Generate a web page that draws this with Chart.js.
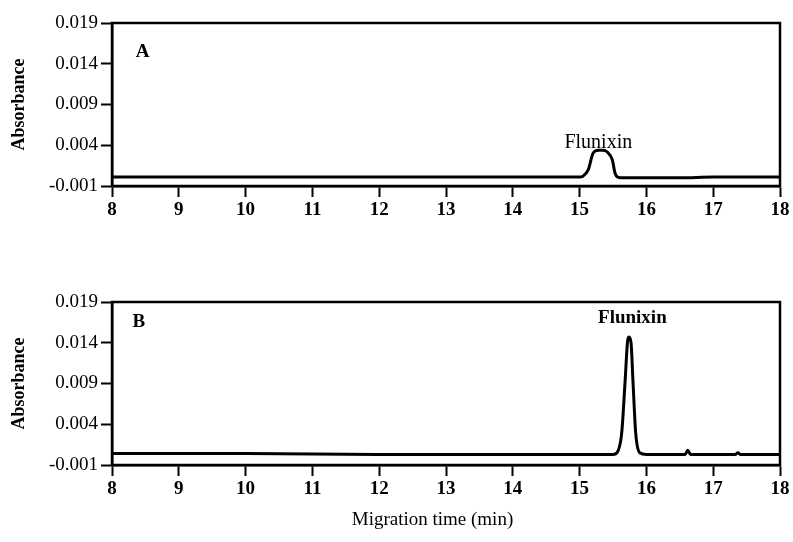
<!DOCTYPE html>
<html>
<head>
<meta charset="utf-8">
<script src="https://cdn.jsdelivr.net/npm/chart.js@4"></script>
<style>
  html, body { margin: 0; padding: 0; background: #fff; }
  #page { position: relative; width: 793px; height: 542px; overflow: hidden; }
  .panel { position: absolute; left: 0; width: 793px; height: 230px; }
  #xtitle {
    position: absolute; left: 0; top: 508px; width: 865px; text-align: center;
    font: 19px "Liberation Serif", "Times New Roman", serif; color: #000;
  }
</style>
</head>
<body>
<div id="page">
  <div class="panel" style="top:0"><canvas id="panelA"></canvas></div>
  <div class="panel" style="top:279px"><canvas id="panelB"></canvas></div>
  <div id="xtitle">Migration time (min)</div>
</div>
<script>
// Electropherogram A
const timeA = [8, 9, 10, 11, 12, 13, 14, 14.8, 15.0, 15.05, 15.13, 15.2, 15.28, 15.35, 15.41, 15.49, 15.53, 15.57, 15.65, 16.0, 16.5, 17, 18];
const absA = [0.0001, 0.0001, 0.0001, 0.0001, 0.0001, 0.0001, 0.0001, 0.0001, 0.0001, 0.0002, 0.0010, 0.0030, 0.0034, 0.0034, 0.0032, 0.0022, 0.0006, 0.0001, 0, 0, 0, 0.0001, 0.0001];

// Electropherogram B
const timeB = [8, 10, 12, 14, 15, 15.5, 15.56, 15.63, 15.68, 15.72, 15.74, 15.77, 15.8, 15.84, 15.9, 16.0, 16.5, 16.58, 16.62, 16.66, 17, 17.33, 17.37, 17.41, 18];
const absB = [0.0004, 0.0004, 0.0003, 0.0003, 0.0003, 0.0003, 0.0005, 0.0029, 0.0091, 0.0143, 0.0147, 0.0140, 0.0091, 0.0029, 0.0005, 0.0003, 0.0003, 0.0003, 0.0008, 0.0003, 0.0003, 0.0003, 0.0005, 0.0003, 0.0003];

// Axes
const yTicks = [-0.001, 0.004, 0.009, 0.014, 0.019];
const xTicks = [8, 9, 10, 11, 12, 13, 14, 15, 16, 17, 18];

const serif = '"Liberation Serif", "Times New Roman", serif';

// box round the plot + text notes placed in data units
const framePlugin = {
  id: 'frame',
  afterDatasetsDraw(chart, args, opts) {
    const { ctx, chartArea: a, scales } = chart;
    ctx.save();
    ctx.strokeStyle = '#000';
    ctx.lineWidth = 2.5;
    ctx.strokeRect(a.left, a.top, a.right - a.left, a.bottom - a.top);
    ctx.fillStyle = '#000';
    ctx.textAlign = 'center';
    ctx.textBaseline = 'middle';
    (opts.notes || []).forEach(n => {
      ctx.font = n.font;
      ctx.fillText(n.text, scales.x.getPixelForValue(n.x), scales.y.getPixelForValue(n.y));
    });
    ctx.restore();
  }
};

const makePanel = (id, times, values, notes) => {
  new Chart(document.getElementById(id), {
    type: 'line',
    data: {
      datasets: [{
        data: times.map((t, i) => ({ x: t, y: values[i] })),
        borderColor: '#000',
        borderWidth: 3,
        pointRadius: 0,
        cubicInterpolationMode: 'monotone',
        fill: false
      }]
    },
    options: {
      responsive: true,
      maintainAspectRatio: false,
      animation: false,
      layout: { padding: { top: 23, right: 13, bottom: 4, left: 0 } },
      plugins: {
        legend: { display: false },
        tooltip: { enabled: false },
        frame: { notes }
      },
      scales: {
        x: {
          type: 'linear',
          min: 8,
          max: 18,
          afterBuildTicks: s => { s.ticks = xTicks.map(v => ({ value: v })); },
          afterFit: s => { s.height = 40; },
          ticks: { color: '#000', padding: 2, maxRotation: 0, font: { family: serif, size: 19, weight: 'bold' } },
          grid: { drawOnChartArea: false, drawTicks: true, tickLength: 11, tickWidth: 2, tickColor: '#000' },
          border: { display: true, color: '#000', width: 2.5 }
        },
        y: {
          min: -0.001,
          max: 0.019,
          afterBuildTicks: s => { s.ticks = yTicks.map(v => ({ value: v })); },
          afterFit: s => { s.width = 112; },
          ticks: {
            color: '#000', padding: 3,
            font: { family: serif, size: 19 },
            callback: v => v.toFixed(3)
          },
          grid: { drawOnChartArea: false, drawTicks: true, tickLength: 11, tickWidth: 2, tickColor: '#000' },
          border: { display: true, color: '#000', width: 2.5 },
          title: {
            display: true, text: 'Absorbance', color: '#000',
            padding: { top: 9, bottom: 0 },
            font: { family: serif, size: 18, weight: 'bold' }
          }
        }
      }
    },
    plugins: [framePlugin]
  });
};

makePanel('panelA', timeA, absA, [
  { text: 'A', x: 8.46, y: 0.0154, font: 'bold 19px ' + serif },
  { text: 'Flunixin', x: 15.28, y: 0.0043, font: '20px ' + serif }
]);
makePanel('panelB', timeB, absB, [
  { text: 'B', x: 8.40, y: 0.0165, font: 'bold 19px ' + serif },
  { text: 'Flunixin', x: 15.79, y: 0.0170, font: 'bold 19px ' + serif }
]);
</script>
</body>
</html>
